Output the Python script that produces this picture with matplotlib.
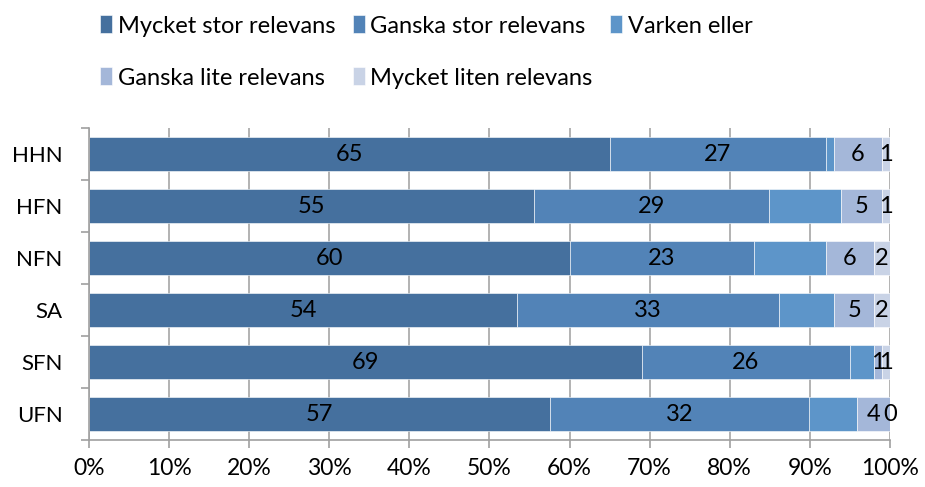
import numpy as np
import matplotlib
matplotlib.use("Agg")
import matplotlib.pyplot as plt

plt.rcParams["font.family"] = ["Lato", "DejaVu Sans"]

categories = ["HHN", "HFN", "NFN", "SA", "SFN", "UFN"]
series_names = ["Mycket stor relevans", "Ganska stor relevans", "Varken eller",
                "Ganska lite relevans", "Mycket liten relevans"]
mycket_stor = [65, 55, 60, 54, 69, 57]
ganska_stor = [27, 29, 23, 33, 26, 32]
varken = [1, 9, 9, 7, 3, 6]
ganska_lite = [6, 5, 6, 5, 1, 4]
mycket_liten = [1, 1, 2, 2, 1, 0]

colors = ["#45709E", "#5283B7", "#5D95C9", "#A4B7D9", "#C9D3E6"]
show_labels = [True, True, False, True, True]

data = np.array([mycket_stor, ganska_stor, varken, ganska_lite, mycket_liten], dtype=float)
shares = data / data.sum(axis=0) * 100

fig = plt.figure(figsize=(9.25, 4.87), dpi=100)
ax = fig.add_axes([0.0962, 0.0965, 0.8658, 0.6405])

y = np.arange(len(categories))
left = np.zeros(len(categories))
handles = []
for i, name in enumerate(series_names):
    h = ax.barh(y, shares[i], left=left, height=0.66, color=colors[i],
                edgecolor="white", linewidth=0.4, label=name, zorder=2)
    handles.append(h)
    if show_labels[i]:
        for j in range(len(categories)):
            ax.text(left[j] + shares[i][j] / 2, y[j], f"{int(data[i][j])}",
                    ha="center", va="center", fontsize=17, color="black", zorder=3)
    left += shares[i]

ax.set_xlim(0, 100)
ax.set_ylim(len(categories) - 0.5, -0.5)
ax.set_xticks(np.arange(0, 101, 10))
ax.set_xticklabels([f"{v}%" for v in range(0, 101, 10)], fontsize=16.5)
ax.set_yticks(y)
ax.set_yticklabels(categories, fontsize=16)
ax.set_yticks(np.arange(-0.5, len(categories)), minor=True)
ax.tick_params(axis="y", which="major", length=0, pad=19)
ax.tick_params(axis="y", which="minor", length=6, color="#A0A0A0", width=1.2)
ax.tick_params(axis="x", length=6, color="#A0A0A0", width=1.2, pad=7)
ax.grid(axis="x", color="#A6A6A6", linewidth=1.2, zorder=0)
ax.set_axisbelow(True)
for s in ["top", "right"]:
    ax.spines[s].set_visible(False)
for s in ["left", "bottom"]:
    ax.spines[s].set_color("#A0A0A0")
    ax.spines[s].set_linewidth(1.2)

order = [0, 3, 1, 4, 2]
fig.legend([handles[k] for k in order], [series_names[k] for k in order],
           loc="upper left", bbox_to_anchor=(0.085, 1.012), ncol=3, frameon=False,
           fontsize=17, handlelength=0.5, handleheight=0.8, handletextpad=0.25,
           columnspacing=0.75, labelspacing=1.3)

fig.savefig("out.png", dpi=100)
